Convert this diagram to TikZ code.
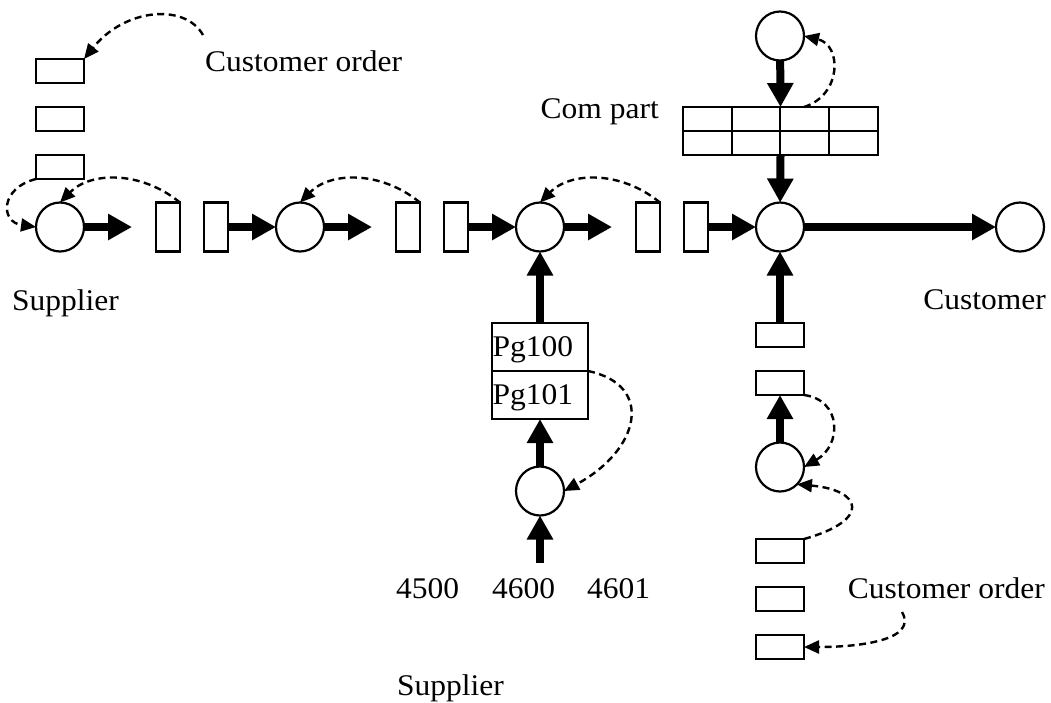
\documentclass[tikz,border=0pt]{standalone}
\usepackage{fontspec}
\setmainfont{Liberation Serif}[FakeStretch=1.05]
\usetikzlibrary{arrows.meta,shapes.geometric}
\tikzset{
  place/.style={draw, ellipse, line width=2.2pt, minimum width=48pt, minimum height=49pt, inner sep=0pt, outer sep=0pt},
  vbox/.style={draw, rectangle, line width=2.2pt, minimum width=24pt, minimum height=49pt, inner sep=0pt, outer sep=0pt},
  hbox/.style={draw, rectangle, line width=2.2pt, minimum width=48pt, minimum height=24pt, inner sep=0pt, outer sep=0pt},
  pgbox/.style={draw, rectangle, line width=2.2pt, minimum width=96pt, minimum height=48pt, text width=95pt, inner xsep=0.5pt, inner ysep=0pt, align=left, text depth=0pt, outer sep=0pt, font=\fontsize{30}{34}\selectfont},
  flow/.style={line width=8pt, -{Triangle[length=24pt,width=25pt]}},
  dasharr/.style={line width=2.4pt, dash pattern=on 7pt off 4.5pt, -{Triangle[length=15pt,width=13pt]}},
  lbl/.style={inner sep=0pt, font=\fontsize{30}{34}\selectfont}
}
\begin{document}
\begin{tikzpicture}[x=1pt,y=-1pt]
\useasboundingbox (0,0) rectangle (1051,702);
% main row
\node[place] (s1) at (60,227) {};
\node[vbox] (r1) at (168,227) {};
\node[vbox] (r2) at (216,227) {};
\node[place] (s2) at (300,227) {};
\node[vbox] (r3) at (408,227) {};
\node[vbox] (r4) at (456,227) {};
\node[place] (s3) at (540,227) {};
\node[vbox] (r5) at (648,227) {};
\node[vbox] (r6) at (696,227) {};
\node[place] (s4) at (780,227) {};
\node[place] (cust) at (1020,227) {};
\coordinate (t1) at (132,227);
\coordinate (t2) at (372,227);
\coordinate (t3) at (612,227);
\draw[flow] (s1) -- (t1);
\draw[flow] (r2) -- (s2);
\draw[flow] (s2) -- (t2);
\draw[flow] (r4) -- (s3);
\draw[flow] (s3) -- (t3);
\draw[flow] (r6) -- (s4);
\draw[flow] (s4) -- (cust);
% top-left customer orders
\node[hbox] (o1) at (60,71) {};
\node[hbox] (o2) at (60,119) {};
\node[hbox] (o3) at (60,167) {};
% top com part
\node[place] (top) at (780,36) {};
\node[draw, rectangle, line width=2.2pt, minimum width=195pt, minimum height=48pt, inner sep=0pt, outer sep=0pt] (grid) at (780.5,131) {};
\draw[line width=2.2pt] (683,131) -- (878,131);
\draw[line width=2.2pt] (732,107) -- (732,155);
\draw[line width=2.2pt] (780,107) -- (780,155);
\draw[line width=2.2pt] (829,107) -- (829,155);
\draw[flow] (top) -- (grid.north);
\draw[flow] (grid.south) -- (s4);
% Pg column
\node[pgbox] (pg1) at (540,347) {Pg100};
\node[pgbox] (pg2) at (540,395) {Pg101};
\node[place] (p3) at (540,491) {};
\coordinate (src) at (540,563);
\draw[flow] (pg1.north) -- (s3);
\draw[flow] (p3) -- (pg2.south);
\draw[flow] (src) -- (p3);
% right column
\node[hbox] (q1) at (780,335) {};
\node[hbox] (q2) at (780,383) {};
\node[place] (p4) at (780,467) {};
\node[hbox] (q3) at (780,551) {};
\node[hbox] (q4) at (780,599) {};
\node[hbox] (q5) at (780,647) {};
\draw[flow] (q1.north) -- (s4);
\draw[flow] (p4) -- (q2.south);
% labels
\node[lbl, anchor=base west] (lco1) at (205,71) {Customer order};
\node[lbl, anchor=base west] (lsup1) at (12,310) {Supplier};
\node[lbl, anchor=base east] (lcom) at (659,118) {Com part};
\node[lbl, anchor=base east] (lcust) at (1046,309) {Customer};
\node[lbl, anchor=base west] (n1) at (396,598) {4500};
\node[lbl, anchor=base west] (n2) at (492,598) {4600};
\node[lbl, anchor=base west] (n3) at (587,598) {4601};
\node[lbl, anchor=base west] (lsup2) at (397,695) {Supplier};
\node[lbl, anchor=base east] (lco2) at (1045,598) {Customer order};
% dashed arcs
\coordinate (d1) at (203,35);
\coordinate (d2) at (804,107);
\coordinate (d3) at (902,612);
\draw[dasharr] (d1) .. controls (185,3) and (125,8) .. (o1.north east);
\draw[dasharr] (o3.south west) .. controls (0,188) and (0,222) .. (s1.west);
\draw[dasharr] (r1.north east) .. controls (140,170) and (90,172) .. (s1.north);
\draw[dasharr] (r3.north east) .. controls (380,170) and (330,172) .. (s2.north);
\draw[dasharr] (r5.north east) .. controls (620,170) and (570,172) .. (s3.north);
\draw[dasharr] (d2) .. controls (842,95) and (842,45) .. (top.east);
\draw[dasharr] (pg1.south east) .. controls (655,385) and (640,450) .. (p3.east);
\draw[dasharr] (q2.south east) .. controls (842,400) and (842,445) .. (p4.east);
\draw[dasharr] (q3.north east) .. controls (872,520) and (862,490) .. (p4.south east);
\draw[dasharr] (d3) .. controls (918,640) and (860,647) .. (q5.east);
\end{tikzpicture}
\end{document}
